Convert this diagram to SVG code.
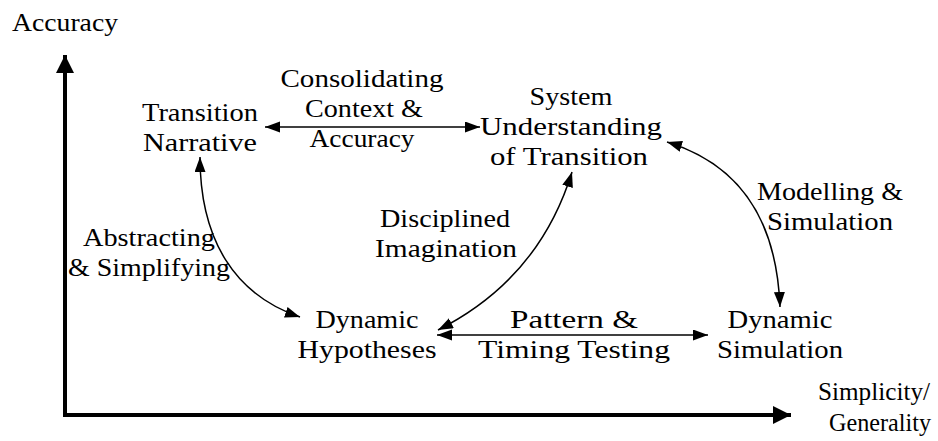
<svg xmlns="http://www.w3.org/2000/svg" width="938" height="441" viewBox="0 0 938 441">
<style>
.t text{font-size:25px;fill:#000;text-anchor:middle}
.c{fill:none;stroke:#000;stroke-width:1.5}
.ax{fill:none;stroke:#000;stroke-width:4}
</style>
<defs>
<marker id="ah" markerUnits="userSpaceOnUse" markerWidth="16" markerHeight="12" refX="15" refY="5.5" orient="auto-start-reverse" viewBox="0 0 16 12"><path d="M0,0 L15,5.5 L0,11 z" fill="#000"/></marker>
<marker id="axh" markerUnits="userSpaceOnUse" markerWidth="20" markerHeight="20" refX="18" refY="9" orient="auto" viewBox="0 0 20 20"><path d="M0,0 L18,9 L0,18 z" fill="#000"/></marker>
</defs>
<g class="t" font-family="'Liberation Serif', 'DejaVu Serif', serif">
<g id="axes">
<path class="ax" d="M65,415 L65,55" marker-end="url(#axh)"/>
<path class="ax" d="M63,415 L791,415" marker-end="url(#axh)"/>
<text x="65" y="31" textLength="106" lengthAdjust="spacingAndGlyphs">Accuracy</text>
<text x="874" y="400" textLength="112" lengthAdjust="spacingAndGlyphs">Simplicity/</text>
<text x="880" y="431" textLength="102" lengthAdjust="spacingAndGlyphs">Generality</text>
</g>
<g id="connectors">
<path class="c" d="M265,127 L480,127" marker-start="url(#ah)" marker-end="url(#ah)"/>
<path class="c" d="M437,335 L708,335" marker-start="url(#ah)" marker-end="url(#ah)"/>
<path class="c" d="M200,157 C200,240 235,295 300,317" marker-start="url(#ah)" marker-end="url(#ah)"/>
<path class="c" d="M438,330 Q539,279 572,172" marker-start="url(#ah)" marker-end="url(#ah)"/>
<path class="c" d="M667,142 Q775,175 780,307" marker-start="url(#ah)" marker-end="url(#ah)"/>
</g>
<g id="labels">
<text x="362" y="87" textLength="163" lengthAdjust="spacingAndGlyphs">Consolidating</text>
<text x="364" y="117" textLength="118" lengthAdjust="spacingAndGlyphs">Context &amp;</text>
<text x="362" y="147" textLength="105" lengthAdjust="spacingAndGlyphs">Accuracy</text>
<text x="445" y="227" textLength="130" lengthAdjust="spacingAndGlyphs">Disciplined</text>
<text x="446" y="257" textLength="142" lengthAdjust="spacingAndGlyphs">Imagination</text>
<text x="149" y="246" textLength="132" lengthAdjust="spacingAndGlyphs">Abstracting</text>
<text x="149" y="276" textLength="162" lengthAdjust="spacingAndGlyphs">&amp; Simplifying</text>
<text x="830" y="200" textLength="146" lengthAdjust="spacingAndGlyphs">Modelling &amp;</text>
<text x="830" y="230" textLength="126" lengthAdjust="spacingAndGlyphs">Simulation</text>
<text x="574" y="328" textLength="128" lengthAdjust="spacingAndGlyphs">Pattern &amp;</text>
<text x="574" y="358" textLength="192" lengthAdjust="spacingAndGlyphs">Timing Testing</text>
</g>
<g id="transition-narrative">
<text x="200" y="121" textLength="116" lengthAdjust="spacingAndGlyphs">Transition</text>
<text x="200" y="151" textLength="114" lengthAdjust="spacingAndGlyphs">Narrative</text>
</g>
<g id="system-understanding">
<text x="571" y="105" textLength="83" lengthAdjust="spacingAndGlyphs">System</text>
<text x="571" y="135" textLength="182" lengthAdjust="spacingAndGlyphs">Understanding</text>
<text x="569" y="165" textLength="158" lengthAdjust="spacingAndGlyphs">of Transition</text>
</g>
<g id="dynamic-hypotheses">
<text x="367" y="328" textLength="103" lengthAdjust="spacingAndGlyphs">Dynamic</text>
<text x="367" y="358" textLength="139" lengthAdjust="spacingAndGlyphs">Hypotheses</text>
</g>
<g id="dynamic-simulation">
<text x="780" y="328" textLength="105" lengthAdjust="spacingAndGlyphs">Dynamic</text>
<text x="780" y="358" textLength="126" lengthAdjust="spacingAndGlyphs">Simulation</text>
</g>
</g>
</svg>
